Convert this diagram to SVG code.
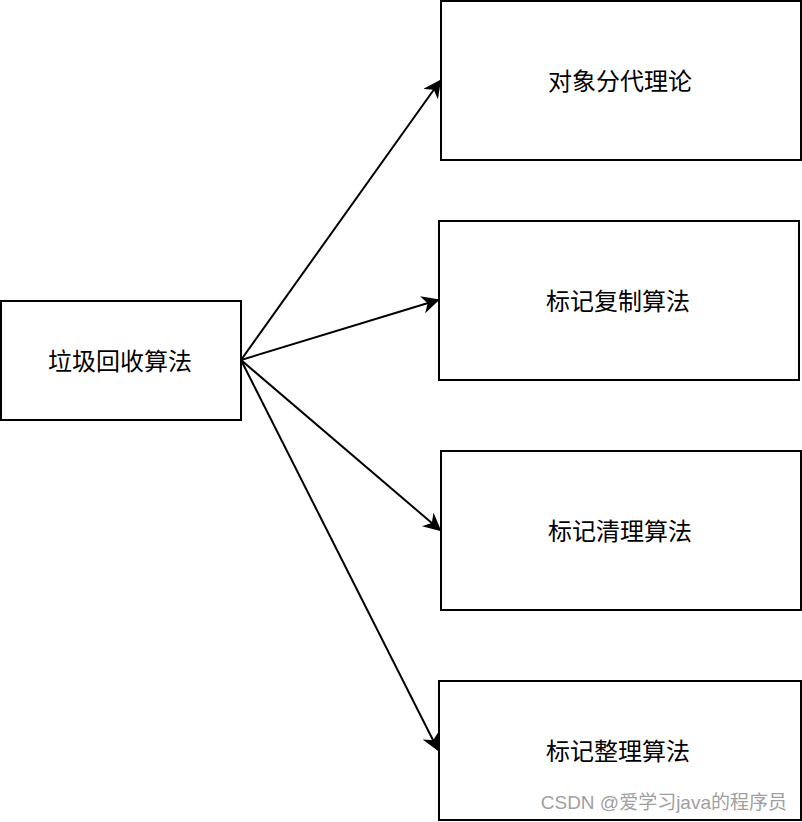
<svg xmlns="http://www.w3.org/2000/svg" width="802" height="822" viewBox="0 0 802 822">
<defs>
<style>
.box{fill:#fff;stroke:#000;stroke-width:2}
.lbl{font-family:"Noto Sans CJK SC","Noto Sans",sans-serif;font-size:24px;fill:#000;text-anchor:middle;dominant-baseline:central}
.edge{fill:none;stroke:#000;stroke-width:2}
.wm{font-family:"Liberation Sans","Noto Sans CJK SC",sans-serif;font-size:19px;fill:#a0a0a0;text-anchor:end}
</style>
<marker id="arr" viewBox="0 0 10 10" refX="9" refY="5" markerWidth="9" markerHeight="9" markerUnits="strokeWidth" orient="auto">
<path d="M0,0 L10,5 L0,10 L3,5 Z" fill="#000"/>
</marker>
</defs>
<rect width="802" height="822" fill="#fff"/>
<g id="connectors">
<line class="edge" x1="241" y1="360" x2="440" y2="81" marker-end="url(#arr)"/>
<line class="edge" x1="241" y1="360" x2="438" y2="300" marker-end="url(#arr)"/>
<line class="edge" x1="241" y1="360" x2="440" y2="530" marker-end="url(#arr)"/>
<line class="edge" x1="241" y1="360" x2="438" y2="750" marker-end="url(#arr)"/>
</g>
<g id="gc">
<rect class="box" x="1" y="301" width="240" height="119"/>
<text class="lbl" x="120" y="359">垃圾回收算法</text>
</g>
<g id="generational">
<rect class="box" x="441" y="1" width="360" height="159"/>
<text class="lbl" x="620" y="79">对象分代理论</text>
</g>
<g id="mark-copy">
<rect class="box" x="439" y="221" width="360" height="159"/>
<text class="lbl" x="618" y="299">标记复制算法</text>
</g>
<g id="mark-sweep">
<rect class="box" x="441" y="451" width="360" height="159"/>
<text class="lbl" x="620" y="529">标记清理算法</text>
</g>
<g id="mark-compact">
<rect class="box" x="439" y="681" width="362" height="139"/>
<text class="lbl" x="618" y="749">标记整理算法</text>
</g>
<text class="wm" x="787" y="809">CSDN @爱学习java的程序员</text>
</svg>
